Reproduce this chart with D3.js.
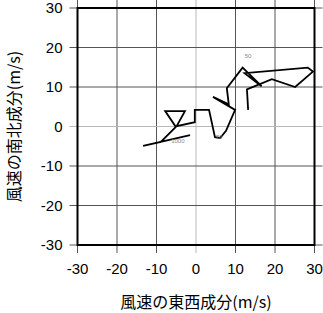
<!DOCTYPE html>
<html>
<head>
<meta charset="utf-8">
<script src="https://cdn.jsdelivr.net/npm/d3@7"></script>
<style>
  body { margin: 0; background: #fff; }
  svg { display: block; }
</style>
</head>
<body>
<div id="wrap"></div>
<script>
// hodograph: east-west (u) and north-south (v) wind components, m/s
var uWind = [-1.5, -13.4, -8.9, -5.1, -7.8, -2.8, -4.9, -0.3, -0.3, 3.3, 4.8, 6.1, 7.6, 9.9, 4.3, 8.3, 7.8, 11.8, 16.6, 12.3, 28.3, 29.6, 25.1, 19.2, 12.9, 13.2];
var vWind = [-2.2, -4.9, -3.9, -0.1, 3.9, 3.9, 0.1, 1.1, 4.2, 4.2, -2.7, -2.9, -1.1, 4.2, 7.5, 5.6, 9.7, 14.9, 10.2, 13.5, 14.9, 13.9, 10.0, 12.0, 9.4, 4.2];

var levelNames = ["1000", "70", "50"];
var levelU = [-4.6, 5.8, 13.2];
var levelV = [-3.7, -2.7, 17.8];

var tickVals = [-30, -20, -10, 0, 10, 20, 30];

var W = 323, H = 313;
var padL = 77.5, padT = 8, size = 237;

var svg = d3.select('#wrap').append("svg")
    .attr("width", W).attr("height", H);

var x = d3.scaleLinear().domain([-30, 30]).range([padL, padL + size]);
var y = d3.scaleLinear().domain([-30, 30]).range([padT + size, padT]);

var tl = 8; // grid lines poke out of the frame as ticks

var grid = svg.append("g");
grid.selectAll("line.gx")
    .data(tickVals)
    .enter().append("line")
    .attr("x1", function(d) { return x(d); })
    .attr("x2", function(d) { return x(d); })
    .attr("y1", padT - tl)
    .attr("y2", padT + size + tl)
    .attr("stroke", function(d) { return d === 0 ? "#b8b8b8" : "#555"; })
    .attr("stroke-width", 1);
grid.selectAll("line.gy")
    .data(tickVals)
    .enter().append("line")
    .attr("y1", function(d) { return y(d); })
    .attr("y2", function(d) { return y(d); })
    .attr("x1", padL - tl)
    .attr("x2", padL + size + tl)
    .attr("stroke", function(d) { return d === 0 ? "#b8b8b8" : "#555"; })
    .attr("stroke-width", 1);

// frame
svg.append("rect")
    .attr("x", padL).attr("y", padT)
    .attr("width", size).attr("height", size)
    .attr("fill", "none")
    .attr("stroke", "#000")
    .attr("stroke-width", 2);

// tick labels
var tickFont = "'Liberation Sans', Arial, sans-serif";
svg.append("g").selectAll("text")
    .data(tickVals)
    .enter().append("text")
    .attr("x", function(d) { return x(d); })
    .attr("y", padT + size + 29)
    .attr("text-anchor", "middle")
    .attr("font-family", tickFont)
    .attr("font-size", 15)
    .text(function(d) { return d; });
svg.append("g").selectAll("text")
    .data(tickVals)
    .enter().append("text")
    .attr("x", padL - 15)
    .attr("y", function(d) { return y(d) + 5; })
    .attr("text-anchor", "end")
    .attr("font-family", tickFont)
    .attr("font-size", 15)
    .text(function(d) { return d; });

// axis titles
var cjkFont = "'Noto Sans CJK JP', sans-serif";
svg.append("text")
    .attr("x", padL + size / 2)
    .attr("y", 308)
    .attr("text-anchor", "middle")
    .attr("font-family", cjkFont)
    .attr("font-size", 16)
    .text("風速の東西成分(m/s)");
svg.append("text")
    .attr("transform", "translate(20," + (padT + size / 2) + ") rotate(-90)")
    .attr("text-anchor", "middle")
    .attr("font-family", cjkFont)
    .attr("font-size", 16)
    .text("風速の南北成分(m/s)");

// hodograph line
var pts = uWind.map(function(u, i) { return [u, vWind[i]]; });
var line = d3.line()
    .x(function(d) { return x(d[0]); })
    .y(function(d) { return y(d[1]); });

svg.append("path")
    .datum(pts)
    .attr("d", line)
    .attr("fill", "none")
    .attr("stroke", "#000")
    .attr("stroke-width", 1.8)
    .attr("stroke-linejoin", "miter");

// level labels
svg.append("g").selectAll("text")
    .data(levelNames)
    .enter().append("text")
    .attr("x", function(d, i) { return x(levelU[i]); })
    .attr("y", function(d, i) { return y(levelV[i]) + 2; })
    .attr("text-anchor", "middle")
    .attr("font-family", tickFont)
    .attr("font-size", 6)
    .attr("fill", "#888")
    .text(function(d) { return d; });
</script>
</body>
</html>
